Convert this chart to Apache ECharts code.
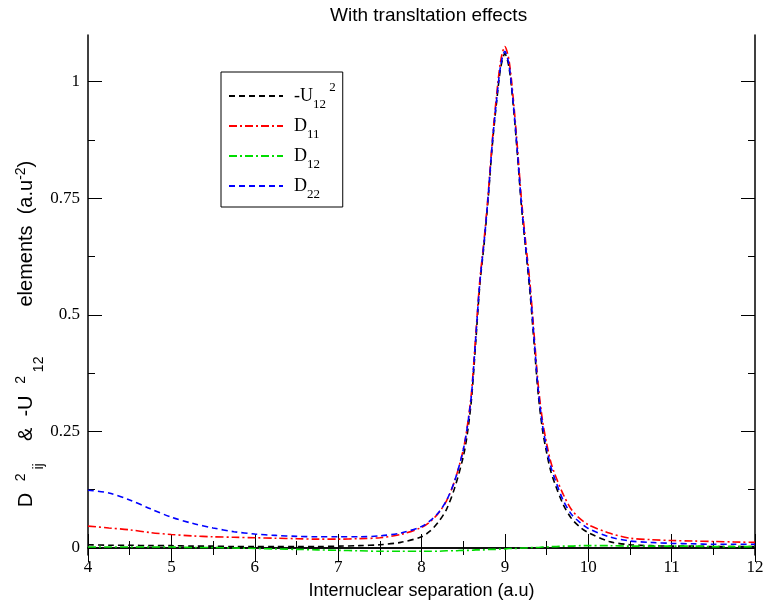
<!DOCTYPE html>
<html>
<head>
<meta charset="utf-8">
<script src="https://cdn.jsdelivr.net/npm/echarts@6/dist/echarts.min.js"></script>
<style>
  html, body { margin: 0; background: #fff; }
  #chart { width: 765px; height: 610px; }
</style>
</head>
<body>
<div id="chart"></div>
<script>
// internuclear separation (a.u)
var sep = [4, 4.25, 4.5, 4.75, 5, 5.25, 5.5, 5.75, 6, 6.25, 6.5, 6.75, 7, 7.25, 7.5, 7.75,
  8, 8.1, 8.2, 8.3, 8.4, 8.5, 8.55, 8.6, 8.65, 8.7, 8.75, 8.8, 8.85, 8.9, 8.95, 9,
  9.05, 9.1, 9.15, 9.2, 9.25, 9.3, 9.35, 9.4, 9.45, 9.5, 9.55, 9.6,
  9.7, 9.8, 9.9, 10, 10.25, 10.5, 10.75, 11, 11.25, 11.5, 11.75, 12];

// -U12^2
var u12 = [0.007, 0.006, 0.006, 0.005, 0.005, 0.004, 0.004, 0.003, 0.003, 0.003, 0.003, 0.003, 0.004, 0.005, 0.007, 0.012,
  0.024, 0.036, 0.055, 0.083, 0.13, 0.195, 0.245, 0.32, 0.44, 0.565, 0.65, 0.75, 0.865, 0.955, 1.03, 1.06,
  1.03, 0.95, 0.845, 0.73, 0.64, 0.55, 0.44, 0.33, 0.255, 0.205, 0.165, 0.138,
  0.093, 0.063, 0.045, 0.033, 0.014, 0.007, 0.005, 0.004, 0.004, 0.003, 0.003, 0.003];

// D11
var d11 = [0.047, 0.043, 0.039, 0.033, 0.029, 0.026, 0.024, 0.023, 0.022, 0.021, 0.020, 0.019, 0.019, 0.020, 0.022, 0.029,
  0.044, 0.056, 0.074, 0.101, 0.145, 0.21, 0.262, 0.335, 0.455, 0.575, 0.66, 0.76, 0.875, 0.97, 1.045, 1.075,
  1.045, 0.965, 0.86, 0.745, 0.655, 0.57, 0.46, 0.35, 0.275, 0.225, 0.185, 0.158,
  0.115, 0.082, 0.063, 0.050, 0.032, 0.021, 0.018, 0.016, 0.015, 0.014, 0.013, 0.012];

// D12
var d12 = [0.002, 0.002, 0.002, 0.002, 0.002, 0.001, 0.001, 0.000, -0.001, -0.002, -0.003, -0.004, -0.005, -0.006, -0.007, -0.007,
  -0.007, -0.007, -0.007, -0.006, -0.006, -0.005, -0.005, -0.005, -0.004, -0.004, -0.004, -0.003, -0.003, -0.003, -0.002, -0.002,
  -0.001, -0.001, -0.001, 0, 0, 0.001, 0.001, 0.001, 0.002, 0.002, 0.003, 0.003,
  0.004, 0.004, 0.005, 0.005, 0.005, 0.004, 0.004, 0.004, 0.004, 0.003, 0.003, 0.003];

// D22
var d22 = [0.124, 0.118, 0.103, 0.084, 0.066, 0.053, 0.043, 0.035, 0.030, 0.027, 0.025, 0.024, 0.024, 0.024, 0.026, 0.032,
  0.046, 0.058, 0.075, 0.102, 0.145, 0.21, 0.26, 0.33, 0.45, 0.57, 0.655, 0.755, 0.87, 0.96, 1.035, 1.065,
  1.035, 0.955, 0.85, 0.735, 0.645, 0.56, 0.45, 0.34, 0.265, 0.215, 0.175, 0.148,
  0.102, 0.072, 0.055, 0.042, 0.024, 0.015, 0.012, 0.010, 0.009, 0.008, 0.008, 0.008];

var yTicks = [0, 0.25, 0.5, 0.75, 1];
var yMinorTicks = [0.125, 0.375, 0.625, 0.875];

var legendText = {
  'U12': '{m|-U}{sub|12}{sup| 2}',
  'D11': '{m|D}{sub|11}',
  'D12': '{m|D}{sub|12}',
  'D22': '{m|D}{sub|22}'
};

function pairs(ys) {
  return sep.map(function (x, i) { return [x, ys[i]]; });
}

var serif = 'Liberation Serif';
var sans = 'Liberation Sans';
var gridBox = { left: 88, right: 10, top: 35, bottom: 55 };

var chart = echarts.init(document.getElementById('chart'));

function mkSeries(name, data, color, dash) {
  return {
    name: name,
    type: 'line',
    data: pairs(data),
    symbol: 'none',
    smooth: 0.3,
    lineStyle: { color: color, width: 1.6, type: dash },
    itemStyle: { color: color }
  };
}

var tickStyle = { color: '#000', width: 1 };

chart.setOption({
  animation: false,
  title: {
    text: 'With transltation effects',
    left: 325, top: 1,
    textStyle: { fontFamily: sans, fontSize: 19, fontWeight: 'normal', color: '#000' }
  },
  legend: {
    orient: 'vertical',
    left: 221, top: 72,
    borderColor: '#000', borderWidth: 1,
    padding: [9, 7, 6, 7],
    itemWidth: 54, itemHeight: 14, itemGap: 6,
    itemStyle: { opacity: 0 },
    data: ['U12', 'D11', 'D12', 'D22'],
    formatter: function (n) { return legendText[n]; },
    textStyle: {
      color: '#000',
      rich: {
        m: { fontFamily: serif, fontSize: 18, lineHeight: 30, color: '#000', padding: [0, 0, 0, 6] },
        sub: { fontFamily: serif, fontSize: 13, lineHeight: 12, verticalAlign: 'bottom', color: '#000' },
        sup: { fontFamily: serif, fontSize: 13, lineHeight: 8, verticalAlign: 'top', color: '#000' }
      }
    }
  },
  grid: [
    Object.assign({ containLabel: false, outerBoundsMode: 'none' }, gridBox),
    Object.assign({ containLabel: false, outerBoundsMode: 'none' }, gridBox)
  ],
  xAxis: [
    {
      type: 'value', gridIndex: 0, position: 'bottom',
      min: 4, max: 12, interval: 1,
      name: 'Internuclear separation (a.u)',
      nameLocation: 'middle', nameGap: 27,
      nameTextStyle: { fontFamily: sans, fontSize: 18, color: '#000' },
      axisLine: { lineStyle: { color: '#000', width: 1.5 } },
      axisTick: { inside: true, length: 14, lineStyle: tickStyle },
      minorTick: { show: true, splitNumber: 2, length: 7, lineStyle: tickStyle },
      axisLabel: { fontFamily: serif, fontSize: 17, color: '#000', margin: 4 },
      splitLine: { show: false }
    },
    {
      type: 'value', gridIndex: 0, position: 'top',
      min: 4, max: 12, interval: 1,
      axisLine: { lineStyle: { color: '#000', width: 1.5 } },
      axisTick: { inside: true, length: 14, lineStyle: tickStyle },
      minorTick: { show: true, splitNumber: 2, length: 7, lineStyle: tickStyle },
      axisLabel: { show: false },
      splitLine: { show: false }
    },
    { type: 'value', gridIndex: 1, min: 4, max: 12, show: false }
  ],
  yAxis: [
    {
      type: 'value', gridIndex: 0, position: 'left',
      min: -0.015, max: 1.1,
      axisLine: { lineStyle: { color: '#000', width: 1.5 } },
      axisTick: { inside: true, length: 14, customValues: yTicks, lineStyle: tickStyle },
      axisLabel: { customValues: yTicks, fontFamily: serif, fontSize: 17, color: '#000', margin: 8 },
      splitLine: { show: false }
    },
    {
      type: 'value', gridIndex: 0, position: 'right',
      min: -0.015, max: 1.1,
      axisLine: { lineStyle: { color: '#000', width: 1.5 } },
      axisTick: { inside: true, length: 14, customValues: yTicks, lineStyle: tickStyle },
      axisLabel: { show: false },
      splitLine: { show: false }
    },
    {
      type: 'value', gridIndex: 1, position: 'left',
      min: -0.015, max: 1.1,
      axisLine: { show: false },
      axisTick: { inside: true, length: 7, customValues: yMinorTicks, lineStyle: tickStyle },
      axisLabel: { show: false },
      splitLine: { show: false }
    },
    {
      type: 'value', gridIndex: 1, position: 'right',
      min: -0.015, max: 1.1,
      axisLine: { show: false },
      axisTick: { inside: true, length: 7, customValues: yMinorTicks, lineStyle: tickStyle },
      axisLabel: { show: false },
      splitLine: { show: false }
    }
  ],
  graphic: [
    {
      type: 'text',
      x: 26, y: 334,
      rotation: Math.PI / 2,
      style: {
        text: '{m|D}{sup|   2}{sub| ij}{m|    &  -U}{sup|   2}{sub| 12}{m|         elements  (a.u}{sup|-2}{m|)}',
        align: 'center', verticalAlign: 'middle',
        rich: {
          m: { fontFamily: sans, fontSize: 20, lineHeight: 40, fill: '#000' },
          sup: { fontFamily: sans, fontSize: 14, verticalAlign: 'top', padding: [8, 0, 0, 0], fill: '#000' },
          sub: { fontFamily: sans, fontSize: 14, verticalAlign: 'bottom', fill: '#000' }
        }
      }
    }
  ],
  series: [
    mkSeries('U12', u12, '#000000', [6, 4]),
    mkSeries('D11', d11, '#ff0000', [8, 3, 2, 3]),
    mkSeries('D12', d12, '#00dd00', [8, 3, 2, 3]),
    mkSeries('D22', d22, '#0000ff', [6, 4])
  ]
});
</script>
</body>
</html>
